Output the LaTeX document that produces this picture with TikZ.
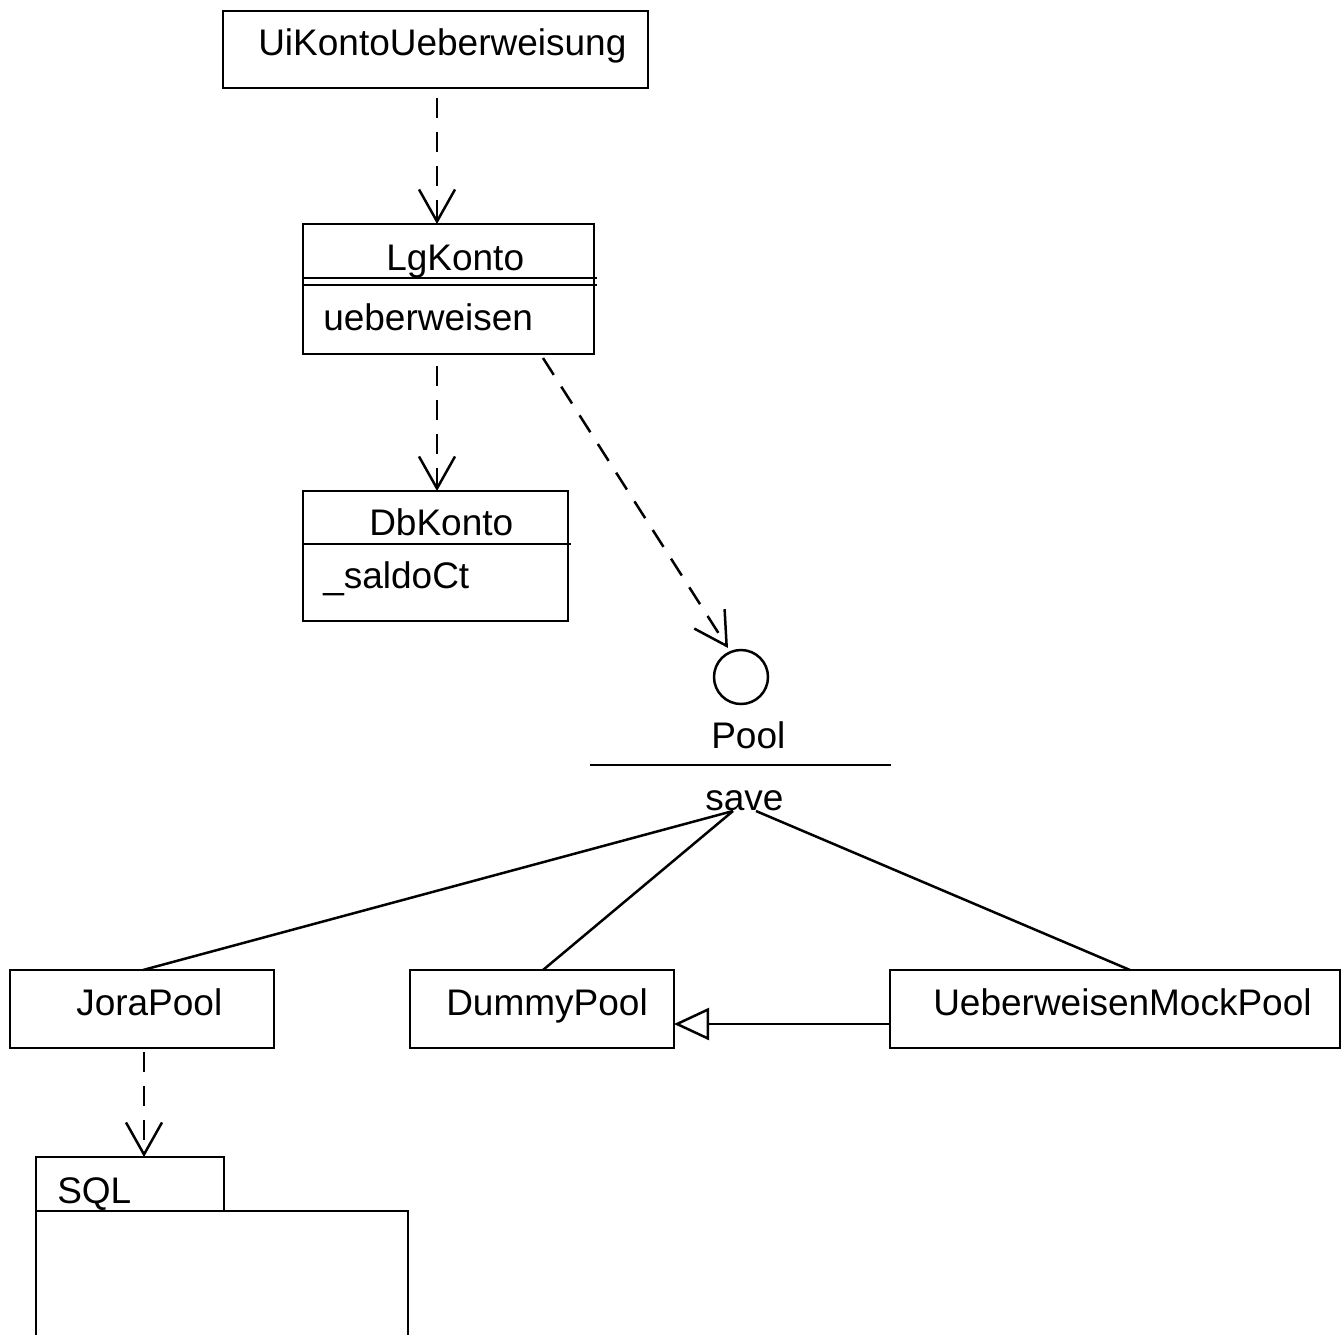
\documentclass[tikz,border=0pt]{standalone}
\usepackage{fontspec}
\setmainfont{Liberation Sans}
\usetikzlibrary{arrows.meta}

\begin{document}
\begin{tikzpicture}[x=1pt,y=-1pt,line width=2.5pt,
  box/.style={draw,rectangle,anchor=north west,inner sep=0pt,outer sep=0pt},
  txt/.style={anchor=base west,inner sep=0pt,font=\fontsize{37}{44}\selectfont},
  dep/.style={dash pattern=on 20pt off 14pt,-{Straight Barb[length=32pt,width=36pt,line width=2.5pt]}},
  gen/.style={-{Triangle[open,length=35pt,width=32pt,fill=white,line width=2.5pt]}}]
\useasboundingbox (0,0) rectangle (1341,1334);

% classes
\node[box,minimum width=425pt,minimum height=77pt] (ui) at (223,11) {};
\node[txt] (uit) at (257,55) {UiKontoUeberweisung};

\node[box,minimum width=291pt,minimum height=130pt] (lg) at (303,224) {};
\node[txt] (lgt) at (385,270) {LgKonto};
\node[txt] (lgop) at (322,330) {ueberweisen};
\draw (lg.west |- 0,278) -- (597,278);
\draw (lg.west |- 0,285) -- (597,285);

\node[box,minimum width=265pt,minimum height=130pt] (db) at (303,491) {};
\node[txt] (dbt) at (368,535) {DbKonto};
\node[txt] (dbat) at (322,588) {\_saldoCt};
\draw (db.west |- 0,544) -- (571,544);

% interface Pool
\node[draw,circle,minimum size=54pt,inner sep=0pt,outer sep=0pt] (pool) at (741,677) {};
\node[txt] (poolt) at (710,748) {Pool};
\draw (590,765) -- (891,765);
\node[txt] (save) at (704,810) {save};
\coordinate (savel) at (733,811);
\coordinate (saver) at (756,811);

% implementations
\node[box,minimum width=264pt,minimum height=78pt] (jora) at (10,970) {};
\node[txt] (jorat) at (75,1015) {JoraPool};
\node[box,minimum width=264pt,minimum height=78pt] (dummy) at (410,970) {};
\node[txt] (dummyt) at (445,1015) {DummyPool};
\node[box,minimum width=450pt,minimum height=78pt] (mock) at (890,970) {};
\node[txt] (mockt) at (932,1015) {UeberweisenMockPool};

% package SQL
\node[box,minimum width=188pt,minimum height=54pt] (sqltab) at (36,1157) {};
\node[txt] (sqlt) at (56,1203) {SQL};
\draw (sqltab.south west) -- (36,1340);
\draw (sqltab.south east) -- (408,1211) -- (408,1340);
\coordinate (sqltop) at (144,1157);

% dependencies
\draw[dep] ([yshift=-10pt]ui.south -| 437,0) -- (lg.north -| 437,0);
\draw[dep] ([yshift=-12pt]lg.south -| 437,0) -- (db.north -| 437,0);
\draw[dep] ([xshift=-51pt,yshift=-4pt]lg.south east) -- (728,648);
\draw[dep] ([yshift=-4pt]jora.south -| 144,0) -- (sqltop);

% realizations
\draw (jora.north -| 143,0) -- (savel);
\draw (dummy.north -| 543,0) -- (savel);
\draw (mock.north -| 1130,0) -- (saver);

% generalization
\draw[gen] (mock.west |- 0,1024) -- (dummy.east |- 0,1024);
\end{tikzpicture}
\end{document}
